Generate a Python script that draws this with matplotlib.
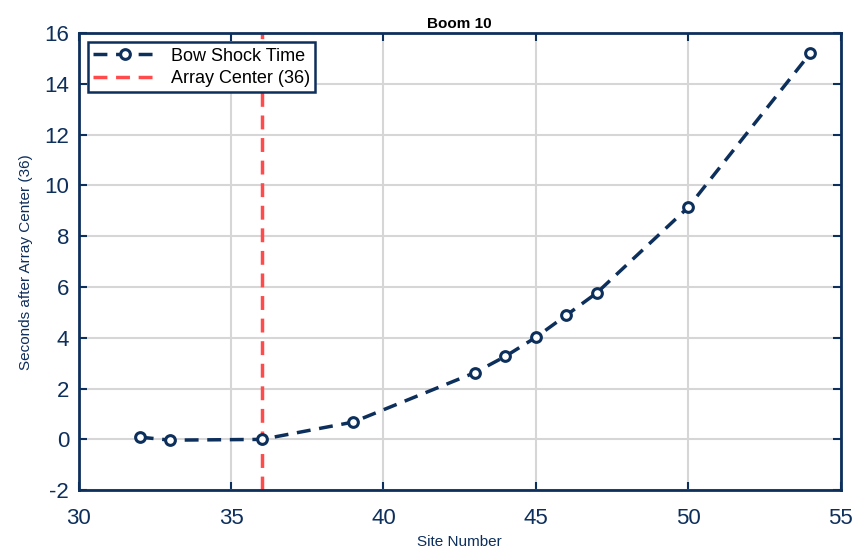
import matplotlib
matplotlib.use("Agg")
import matplotlib.pyplot as plt

plt.rcParams['font.family'] = ['Liberation Sans', 'DejaVu Sans']
plt.rcParams['axes.unicode_minus'] = False

sites = [32, 33, 36, 39, 43, 44, 45, 46, 47, 50, 54]
seconds = [0.09, -0.03, 0.0, 0.68, 2.63, 3.27, 4.02, 4.89, 5.77, 9.14, 15.2]
center = 36

navy = '#0d2f5c'
red = '#ff4b4b'

fig = plt.figure(figsize=(8.56, 5.52), dpi=100)
ax = fig.add_axes([0.092, 0.112, 0.890, 0.828])

ax.plot(sites, seconds, '--o', color=navy, lw=2.5, dashes=(4, 2.5),
        ms=7, mew=2.2, mfc='white', label='Bow Shock Time', zorder=3)
ax.axvline(center, color=red, lw=2.5, ls=(0, (4, 2.5)),
           label='Array Center (%d)' % center, zorder=2)

ax.set_xlim(30, 55)
ax.set_ylim(-2, 16)
ax.set_xticks(range(30, 56, 5))
ax.set_yticks(range(-2, 17, 2))
ax.grid(True, color='#d6d6d6', lw=1.5)
ax.set_axisbelow(True)

for s in ax.spines.values():
    s.set_color(navy)
    s.set_linewidth(2)
ax.tick_params(direction='in', length=6, width=1.5, colors=navy,
               labelsize=16, top=True, right=True)
ax.tick_params(axis='x', pad=13)
ax.tick_params(axis='y', pad=7)

ax.set_xlabel('Site Number', fontsize=11, color=navy, labelpad=4)
ax.set_ylabel('Seconds after Array Center (36)', fontsize=11, color=navy,
              labelpad=8)
ax.set_title('Boom 10', fontsize=11, fontweight='bold', pad=4)

leg = ax.legend(loc='upper left', fontsize=13, fancybox=False,
                edgecolor=navy, framealpha=1, borderaxespad=0.5,
                handlelength=3.5, borderpad=0.3, labelspacing=0.3)
leg.get_frame().set_linewidth(1.8)

fig.savefig('out.png', dpi=100)
